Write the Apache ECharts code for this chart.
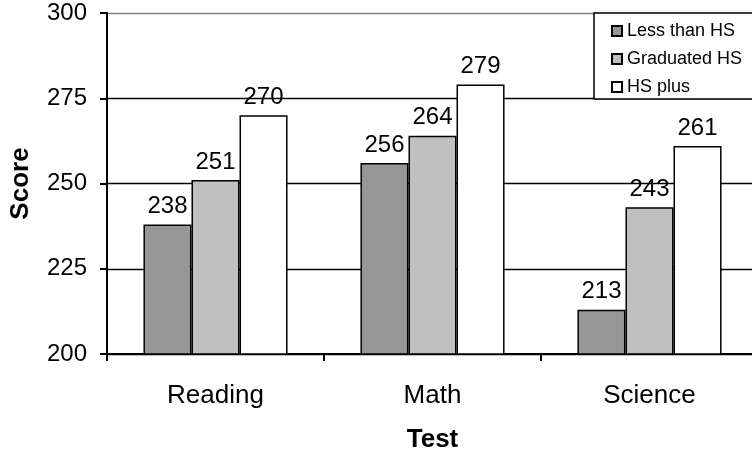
<!DOCTYPE html>
<html>
<head>
<meta charset="utf-8">
<script src="https://cdn.jsdelivr.net/npm/echarts@6/dist/echarts.min.js"></script>
<style>
  html, body { margin: 0; padding: 0; background: #fff; }
  #chart { width: 752px; height: 453px; }
</style>
</head>
<body>
<div id="chart"></div>
<script>
// Test scores by parents' education level
const categories = ['Reading', 'Math', 'Science'];
const seriesNames = ['Less than HS', 'Graduated HS', 'HS plus'];
const lessThanHS = [238, 256, 213];
const graduatedHS = [251, 264, 243];
const hsPlus = [270, 279, 261];
const yTicks = [200, 225, 250, 275, 300];

const FONT = '"Liberation Sans", Arial, sans-serif';
const fills = ['#969696', '#C0C0C0', '#FFFFFF'];
const values = [lessThanHS, graduatedHS, hsPlus];

const chart = echarts.init(document.getElementById('chart'), null, { renderer: 'canvas' });

chart.setOption({
  animation: false,
  backgroundColor: '#fff',
  textStyle: { fontFamily: FONT },
  // plot area runs slightly past the right edge of the canvas
  grid: { left: 107, right: -6, top: 13, bottom: 99, containLabel: false, outerBoundsMode: 'none' },
  legend: {
    orient: 'vertical',
    left: 594,
    top: 13,
    padding: [8, 40, 2, 17],
    itemGap: 8,
    itemWidth: 10,
    itemHeight: 10,
    borderColor: '#000',
    borderWidth: 1.5,
    backgroundColor: '#fff',
    icon: 'rect',
    textStyle: { fontFamily: FONT, fontSize: 18, color: '#000', lineHeight: 20 },
    data: seriesNames
  },
  xAxis: {
    type: 'category',
    data: categories,
    name: 'Test',
    nameLocation: 'middle',
    nameGap: 73,
    nameTextStyle: { fontFamily: FONT, fontSize: 26, fontWeight: 'bold', color: '#000' },
    axisLine: { lineStyle: { color: '#000', width: 2 } },
    axisTick: { show: true, length: 7, inside: false, lineStyle: { color: '#000', width: 2 } },
    axisLabel: { margin: 29, fontFamily: FONT, fontSize: 26, color: '#000' }
  },
  yAxis: {
    type: 'value',
    min: yTicks[0],
    max: yTicks[yTicks.length - 1],
    interval: 25,
    name: 'Score',
    nameLocation: 'middle',
    nameGap: 73,
    nameTextStyle: { fontFamily: FONT, fontSize: 26, fontWeight: 'bold', color: '#000' },
    axisLine: { show: true, lineStyle: { color: '#000', width: 2 } },
    axisTick: { show: true, length: 7, lineStyle: { color: '#000', width: 2 } },
    axisLabel: { margin: 20, fontFamily: FONT, fontSize: 24, color: '#000' },
    splitLine: {
      show: true,
      lineStyle: { color: ['#000', '#000', '#000', '#000', '#808080'], width: 1.3 }
    }
  },
  series: seriesNames.map((name, i) => ({
    name: name,
    type: 'bar',
    data: values[i],
    barGap: '0%',
    barCategoryGap: '33.6%',
    itemStyle: { color: fills[i], borderColor: '#000', borderWidth: 1.5 },
    label: {
      show: true,
      position: 'top',
      distance: 6,
      fontFamily: FONT,
      fontSize: 24,
      color: '#000'
    }
  }))
});
</script>
</body>
</html>
